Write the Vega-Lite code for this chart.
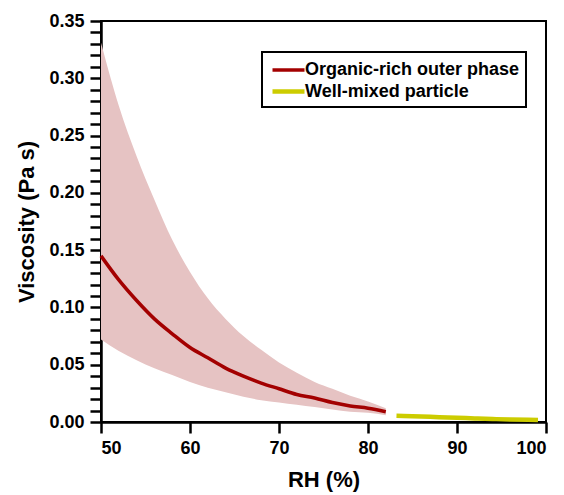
{
  "$schema": "https://vega.github.io/schema/vega-lite/v6.json",
  "width": 445,
  "height": 401,
  "autosize": {"type": "none"},
  "padding": {"left": 101, "top": 21, "right": 18, "bottom": 73},
  "background": "white",
  "config": {
    "view": {"stroke": "black", "strokeWidth": 2},
    "font": "Liberation Sans",
    "axis": {
      "grid": false,
      "domainColor": "black",
      "domainWidth": 2.5,
      "tickColor": "black",
      "tickWidth": 2.5,
      "labelFont": "Liberation Sans",
      "labelFontWeight": "bold",
      "labelFontSize": 18,
      "labelColor": "black",
      "titleFont": "Liberation Sans",
      "titleFontWeight": "bold",
      "titleFontSize": 22,
      "titleColor": "black"
    }
  },
  "resolve": {"axis": {"x": "independent", "y": "independent"}},
  "datasets": {
    "band": [
      {"rh": 50, "lo": 0.072, "hi": 0.331},
      {"rh": 52, "lo": 0.062, "hi": 0.276},
      {"rh": 54, "lo": 0.054, "hi": 0.232},
      {"rh": 56, "lo": 0.047, "hi": 0.194},
      {"rh": 58, "lo": 0.041, "hi": 0.159},
      {"rh": 60, "lo": 0.035, "hi": 0.131},
      {"rh": 62, "lo": 0.030, "hi": 0.108},
      {"rh": 64, "lo": 0.026, "hi": 0.090},
      {"rh": 66, "lo": 0.022, "hi": 0.075},
      {"rh": 68, "lo": 0.019, "hi": 0.063},
      {"rh": 70, "lo": 0.017, "hi": 0.052},
      {"rh": 72, "lo": 0.015, "hi": 0.043},
      {"rh": 74, "lo": 0.013, "hi": 0.035},
      {"rh": 76, "lo": 0.011, "hi": 0.029},
      {"rh": 78, "lo": 0.009, "hi": 0.023},
      {"rh": 80, "lo": 0.008, "hi": 0.018},
      {"rh": 82, "lo": 0.006, "hi": 0.012}
    ],
    "lines": [
      {"rh": 50, "v": 0.145, "series": "Organic-rich outer phase"},
      {"rh": 52, "v": 0.124, "series": "Organic-rich outer phase"},
      {"rh": 54, "v": 0.106, "series": "Organic-rich outer phase"},
      {"rh": 56, "v": 0.090, "series": "Organic-rich outer phase"},
      {"rh": 58, "v": 0.077, "series": "Organic-rich outer phase"},
      {"rh": 60, "v": 0.065, "series": "Organic-rich outer phase"},
      {"rh": 62, "v": 0.056, "series": "Organic-rich outer phase"},
      {"rh": 64, "v": 0.047, "series": "Organic-rich outer phase"},
      {"rh": 66, "v": 0.040, "series": "Organic-rich outer phase"},
      {"rh": 68, "v": 0.034, "series": "Organic-rich outer phase"},
      {"rh": 70, "v": 0.029, "series": "Organic-rich outer phase"},
      {"rh": 72, "v": 0.024, "series": "Organic-rich outer phase"},
      {"rh": 74, "v": 0.021, "series": "Organic-rich outer phase"},
      {"rh": 76, "v": 0.017, "series": "Organic-rich outer phase"},
      {"rh": 78, "v": 0.014, "series": "Organic-rich outer phase"},
      {"rh": 80, "v": 0.012, "series": "Organic-rich outer phase"},
      {"rh": 82, "v": 0.009, "series": "Organic-rich outer phase"},
      {"rh": 83.2, "v": 0.0055, "series": "Well-mixed particle"},
      {"rh": 86, "v": 0.0048, "series": "Well-mixed particle"},
      {"rh": 88, "v": 0.0042, "series": "Well-mixed particle"},
      {"rh": 90, "v": 0.0037, "series": "Well-mixed particle"},
      {"rh": 92, "v": 0.0031, "series": "Well-mixed particle"},
      {"rh": 94, "v": 0.0026, "series": "Well-mixed particle"},
      {"rh": 96, "v": 0.0022, "series": "Well-mixed particle"},
      {"rh": 99.1, "v": 0.0017, "series": "Well-mixed particle"}
    ]
  },
  "layer": [
    {
      "data": {"name": "band"},
      "mark": {"type": "area", "color": "#e6c3c3", "opacity": 1, "interpolate": "monotone"},
      "encoding": {
        "x": {
          "field": "rh", "type": "quantitative",
          "scale": {"domain": [50, 100], "nice": false, "zero": false},
          "axis": {
            "title": "RH (%)",
            "orient": "bottom",
            "values": [50, 60, 70, 80, 90, 100],
            "ticks": true,
            "tickSize": 11,
            "labelPadding": 6,
            "titlePadding": 12
          }
        },
        "y": {
          "field": "hi", "type": "quantitative",
          "scale": {"domain": [0, 0.35], "nice": false},
          "axis": {
            "title": "Viscosity (Pa s)",
            "orient": "left",
            "values": [0, 0.01, 0.02, 0.03, 0.04, 0.05, 0.06, 0.07, 0.08, 0.09, 0.1, 0.11, 0.12, 0.13, 0.14, 0.15, 0.16, 0.17, 0.18, 0.19, 0.2, 0.21, 0.22, 0.23, 0.24, 0.25, 0.26, 0.27, 0.28, 0.29, 0.3, 0.31, 0.32, 0.33, 0.34, 0.35],
            "format": ".2f",
            "labelExpr": "round(datum.value*100) % 5 == 0 ? datum.label : ''",
            "labelOverlap": false,
            "labelBound": false,
            "ticks": true,
            "tickSize": 11,
            "labelPadding": 6,
            "titlePadding": 10,
            "encode": {"ticks": {"update": {"x2": {"signal": "round(datum.value*100) % 5 == 0 ? -11 : -6"}}}}
          }
        },
        "y2": {"field": "lo"}
      }
    },
    {
      "data": {"name": "lines"},
      "mark": {"type": "line", "strokeCap": "butt", "interpolate": "monotone"},
      "encoding": {
        "x": {"field": "rh", "type": "quantitative", "axis": null},
        "y": {"field": "v", "type": "quantitative", "axis": null},
        "color": {
          "field": "series", "type": "nominal",
          "scale": {"domain": ["Organic-rich outer phase", "Well-mixed particle"], "range": ["#a30000", "#cccc00"]},
          "legend": {
            "title": null,
            "orient": "none",
            "legendX": 161,
            "legendY": 31,
            "symbolType": "M-1.6,0H1.6",
            "symbolSize": 400,
            "symbolStrokeWidth": 4,
            "symbolOffset": 8,
            "labelFont": "Liberation Sans",
            "labelFontWeight": "bold",
            "labelFontSize": 18,
            "labelColor": "black",
            "labelLimit": 400,
            "rowPadding": 0,
            "labelOffset": 4,
            "padding": 6,
            "strokeColor": "black",
            "fillColor": "white",
            "encode": {"legend": {"update": {"strokeWidth": {"value": 2}}}}
          }
        },
        "strokeWidth": {
          "field": "series", "type": "nominal",
          "scale": {"domain": ["Organic-rich outer phase", "Well-mixed particle"], "range": [3.5, 4.5]},
          "legend": null
        }
      }
    }
  ]
}
